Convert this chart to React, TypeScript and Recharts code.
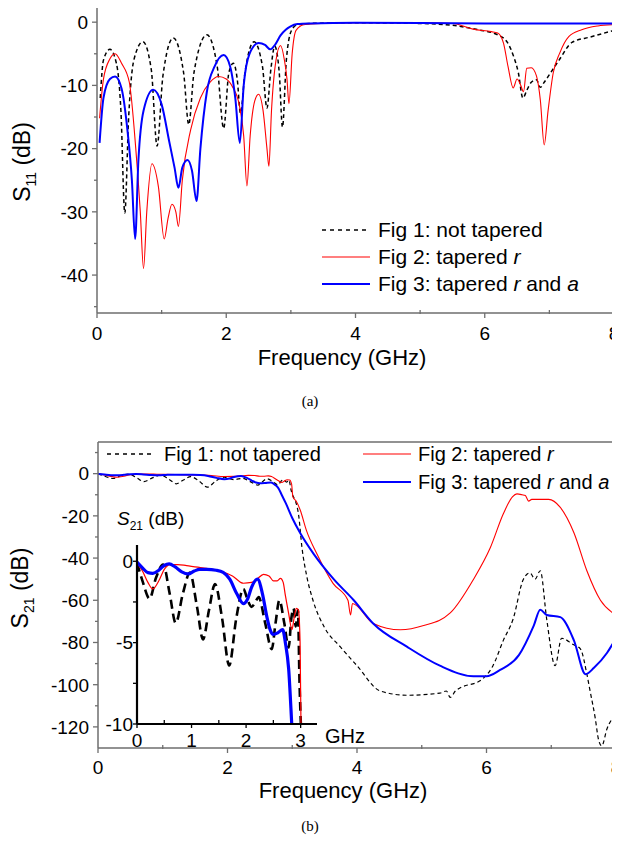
import React from "react";
import { LineChart, Line, XAxis, YAxis, ReferenceLine } from "recharts";

const FONT = "Arial, 'Liberation Sans', Helvetica, sans-serif";
const AXIS = "#6e6e6e";

// ---- (a) S11 ----
const s11NotTaperedF = [0.05, 0.1, 0.2, 0.3, 0.37, 0.43, 0.49, 0.57, 0.71, 0.84, 0.93, 1.02, 1.18, 1.34, 1.42, 1.5, 1.7, 1.86, 1.96, 2.04, 2.11, 2.17, 2.22, 2.29, 2.43, 2.56, 2.63, 2.69, 2.75, 2.82, 2.87, 2.93, 3.01, 3.1, 3.3, 4, 5, 5.5, 5.9, 6.2, 6.35, 6.45, 6.52, 6.59, 6.65, 6.72, 6.8, 6.86, 6.92, 7.0, 7.15, 7.35, 7.65, 8];
const s11NotTaperedDb = [-12, -6, -4.3, -6.5, -14, -30.2, -15, -6, -3.1, -7.5, -19.6, -8.5, -2.5, -8, -16.2, -8, -2.0, -7, -16.8, -8, -6.5, -9, -14.4, -8, -3.1, -7, -13.6, -7.5, -3.8, -8, -16.6, -6, -1.3, -0.4, -0.2, -0.1, -0.2, -0.5, -1.2, -2, -3.2, -5.5, -8, -12, -10.8, -9.5, -9.1, -10.3, -9.5, -8.3, -6, -3.2, -2.3, -1.3];

const s11TaperedRF = [0.04, 0.1, 0.2, 0.28, 0.38, 0.5, 0.6, 0.67, 0.72, 0.77, 0.85, 0.95, 1.04, 1.1, 1.16, 1.22, 1.26, 1.32, 1.45, 1.6, 1.75, 1.88, 2.0, 2.1, 2.2, 2.27, 2.32, 2.37, 2.44, 2.5, 2.57, 2.63, 2.66, 2.7, 2.77, 2.84, 2.9, 2.94, 2.97, 3.02, 3.08, 3.2, 3.5, 4, 5, 5.5, 5.82, 6.1, 6.2, 6.29, 6.36, 6.44, 6.5, 6.55, 6.6, 6.65, 6.72, 6.8, 6.86, 6.92, 6.98, 7.06, 7.16, 7.3, 7.5, 7.75, 8];
const s11TaperedRDb = [-15.2, -9, -5.8, -5.0, -6.5, -9.5, -20, -30, -39, -30, -22.4, -26, -34.3, -31, -28.8, -30, -32.3, -25, -17, -12, -9.5, -8.6, -9, -10.3, -13, -18, -25.9, -18, -12.5, -11.4, -14, -20, -22.8, -14, -6, -3.7, -6, -9, -12.9, -5, -1.3, -0.4, -0.2, -0.1, -0.1, -0.2, -1.1, -1.5, -1.7, -3.3, -7, -10.4, -9, -9.8, -11, -7.3, -7.2, -8.5, -12.3, -19.4, -14, -8, -4.9, -2.3, -1.2, -0.6, -0.4];

const s11TaperedRAF = [0.04, 0.1, 0.2, 0.28, 0.38, 0.47, 0.54, 0.59, 0.64, 0.72, 0.87, 1.0, 1.12, 1.2, 1.26, 1.32, 1.4, 1.47, 1.54, 1.6, 1.7, 1.82, 1.96, 2.06, 2.14, 2.21, 2.27, 2.36, 2.5, 2.6, 2.68, 2.76, 2.84, 2.92, 2.99, 3.1, 3.3, 4, 6, 8];
const s11TaperedRADb = [-19.1, -12, -9, -8.6, -10.5, -17, -25, -34.3, -22, -14, -10.7, -13, -19, -23, -26.2, -23, -21.8, -23.5, -28.3, -20, -11, -7, -5.2, -7, -12, -19.1, -10, -5, -3.3, -3.6, -4.3, -3.5, -2.1, -1.2, -0.7, -0.3, -0.2, -0.1, -0.2, -0.2];

// ---- (b) S21, passband part (inset) + stopband tail ----
const s21NotTaperedF = [0, 0.1, 0.23, 0.35, 0.48, 0.6, 0.71, 0.84, 0.97, 1.1, 1.21, 1.32, 1.43, 1.56, 1.69, 1.82, 1.95, 2.03, 2.1, 2.17, 2.23, 2.35, 2.47, 2.54, 2.61, 2.7, 2.78, 2.83, 2.87, 2.91, 2.95, 2.98];
const s21NotTaperedDb = [-0.1, -1.2, -2.3, -1.0, -0.2, -2.0, -3.8, -2.0, -0.7, -2.8, -4.8, -3.0, -1.4, -3.5, -6.4, -3.5, -1.7, -2.4, -2.8, -2.5, -2.2, -3.8, -5.4, -3.8, -2.4, -3.8, -5.3, -3.5, -2.9, -4.0, -3.0, -7.5];
const s21NotTaperedTailF = [3.01, 3.05, 3.1, 3.15, 3.22, 3.32, 3.5, 3.74, 4.0, 4.36, 4.77, 5.28, 5.38, 5.44, 5.52, 5.95, 6.1, 6.26, 6.41, 6.57, 6.67, 6.75, 6.83, 6.93, 7.06, 7.16, 7.34, 7.45, 7.55, 7.6, 7.68, 7.73, 7.78, 7.86, 8];
const s21NotTaperedTailDb = [-10.5, -13, -20, -35, -48, -60, -73, -82, -91, -103, -105, -104, -103, -106, -103, -97, -91, -79, -69, -50, -47, -50, -46, -69, -91, -78, -81, -83, -95, -103, -116, -126, -129, -121, -114];

const s21TaperedRF = [0, 0.1, 0.2, 0.29, 0.4, 0.5, 0.6, 0.75, 0.91, 1.2, 1.52, 1.75, 1.95, 2.1, 2.2, 2.32, 2.42, 2.5, 2.57, 2.63, 2.68, 2.72, 2.78, 2.84, 2.88, 2.92, 2.96, 2.99];
const s21TaperedRDb = [-0.1, -0.6, -1.3, -1.7, -1.2, -0.5, -0.2, -0.2, -0.27, -0.4, -0.6, -0.9, -1.35, -1.3, -1.1, -0.8, -0.9, -1.2, -1.2, -1.05, -1.3, -2.1, -3.2, -4.2, -3.5, -2.9, -3.0, -5];
const s21TaperedRTailF = [3.01, 3.06, 3.12, 3.22, 3.38, 3.63, 3.86, 3.9, 3.93, 4.25, 4.67, 5.03, 5.44, 5.8, 6.06, 6.26, 6.4, 6.47, 6.55, 6.6, 6.65, 6.7, 6.96, 7.14, 7.35, 7.55, 7.76, 8];
const s21TaperedRTailDb = [-11, -13, -17, -27, -38, -52, -60, -67, -61.5, -71, -74, -72, -66, -50, -35, -19, -11, -9.6, -10, -10.4, -13, -12.2, -12.2, -16, -28, -46, -60, -67];

const s21TaperedRAF = [0, 0.1, 0.2, 0.29, 0.4, 0.5, 0.59, 0.7, 0.82, 0.94, 1.05, 1.15, 1.28, 1.45, 1.58, 1.7, 1.83, 1.95, 2.03, 2.1, 2.21, 2.3, 2.38, 2.44, 2.5, 2.58, 2.67, 2.72, 2.78, 2.84];
const s21TaperedRADb = [-0.05, -0.4, -0.7, -0.74, -0.55, -0.25, -0.16, -0.35, -0.65, -0.78, -0.6, -0.5, -0.5, -0.55, -0.68, -1.1, -2.0, -2.6, -2.3, -1.6, -1.1, -2.0, -3.4, -4.2, -4.5, -4.4, -4.2, -5.0, -6.6, -10.2];
const s21TaperedRATailF = [2.9, 3.0, 3.12, 3.33, 3.64, 3.95, 4.25, 4.77, 5.28, 5.8, 6.0, 6.21, 6.5, 6.73, 6.83, 6.93, 7.14, 7.35, 7.53, 7.66, 7.86, 8];
const s21TaperedRATailDb = [-14, -21, -28, -38, -50, -60, -71, -82, -91, -96, -96, -93, -86, -72, -64.5, -67, -68, -79, -95, -92, -85, -78];

// ticks
const freqTicks = [0, 1, 2, 3, 4, 5, 6, 7, 8];
const s11Ticks = [-45, -40, -35, -30, -25, -20, -15, -10, -5, 0];
const s21Ticks = [-120, -110, -100, -90, -80, -70, -60, -50, -40, -30, -20, -10, 0, 10];
const insetFreqTicks = [0, 0.5, 1, 1.5, 2, 2.5, 3];
const insetDbTicks = [-10, -7.5, -5, -2.5, 0];

const pts = (xs: number[], ys: number[]) => xs.map((x, i) => ({ x, y: ys[i] }));

const a1 = pts(s11NotTaperedF, s11NotTaperedDb);
const a2 = pts(s11TaperedRF, s11TaperedRDb);
const a3 = pts(s11TaperedRAF, s11TaperedRADb);
const b1 = pts([...s21NotTaperedF, ...s21NotTaperedTailF], [...s21NotTaperedDb, ...s21NotTaperedTailDb]);
const b2 = pts([...s21TaperedRF, ...s21TaperedRTailF], [...s21TaperedRDb, ...s21TaperedRTailDb]);
const b3 = pts([...s21TaperedRAF, ...s21TaperedRATailF], [...s21TaperedRADb, ...s21TaperedRATailDb]);

const yTick = (isMajor: (v: number) => boolean, color: string, size: number, gap: number, majLen: number, minLen: number) =>
  (p: any) => {
    const v = p.payload.value;
    const major = isMajor(v);
    return (
      <g>
        <line x1={p.x} y1={p.y} x2={p.x - (major ? majLen : minLen)} y2={p.y} stroke={color} strokeWidth={1.3} />
        {major && (
          <text x={p.x - gap} y={p.y} dy="0.36em" textAnchor="end" fontSize={size} fontFamily={FONT} fill="#000">
            {String(v)}
          </text>
        )}
      </g>
    );
  };

const xTick = (isMajor: (v: number) => boolean, color: string, size: number, off: number, majLen: number, minLen: number) =>
  (p: any) => {
    const v = p.payload.value;
    const major = isMajor(v);
    return (
      <g>
        {major ? (
          <line x1={p.x} y1={p.y} x2={p.x} y2={p.y + majLen} stroke={color} strokeWidth={1.3} />
        ) : (
          <line x1={p.x} y1={p.y - minLen} x2={p.x} y2={p.y + 1} stroke={color} strokeWidth={1.3} />
        )}
        {major && (
          <text x={p.x} y={p.y + off} textAnchor="middle" fontSize={size} fontFamily={FONT} fill="#000">
            {String(v)}
          </text>
        )}
      </g>
    );
  };

const even = (v: number) => v % 2 === 0;
const by10 = (v: number) => v % 10 === 0;
const by20 = (v: number) => v % 20 === 0;
const isInt = (v: number) => Number.isInteger(v);
const by5 = (v: number) => v % 5 === 0;

const freqTitle = (x: number, y: number) => () => (
  <text x={x} y={y} textAnchor="middle" fontSize={22} fontFamily={FONT} fill="#000">
    Frequency (GHz)
  </text>
);

const sTitle = (sub: string, cx: number, cy: number) => () => (
  <text transform={`rotate(-90, ${cx}, ${cy})`} x={cx} y={cy} dy="0.35em" textAnchor="middle" fontSize={23} fontFamily={FONT} fill="#000">
    S<tspan fontSize={14} dy={6}>{sub}</tspan>
    <tspan dy={-6}> (dB)</tspan>
  </text>
);

function LegendRow({ color, dash, width, children, left, top, fontSize, gap = 8 }: any) {
  return (
    <div style={{ position: "absolute", left, top, height: 26, display: "flex", alignItems: "center", fontFamily: FONT, fontSize, whiteSpace: "nowrap" }}>
      <svg width={49} height={10} style={{ marginRight: gap }}>
        <line x1={0} y1={5} x2={48} y2={5} stroke={color} strokeWidth={width} strokeDasharray={dash} />
      </svg>
      <span>{children}</span>
    </div>
  );
}

export default function App() {
  return (
    <div style={{ position: "relative", width: 620, height: 851, margin: -8, background: "#fff", overflow: "hidden" }}>
      {/* (a) */}
      <div style={{ position: "absolute", left: 0, top: 0 }}>
        <LineChart width={620} height={375} margin={{ top: 7, right: 6, left: 0, bottom: 0 }}>
          <XAxis
            type="number"
            dataKey="x"
            domain={[0, 8]}
            ticks={freqTicks}
            interval={0}
            tickSize={0}
            tickMargin={0}
            height={62}
            stroke={AXIS}
            strokeWidth={1.5}
            tick={xTick(even, AXIS, 19, 27, 5, 3)}
            label={freqTitle(342, 365)}
          />
          <YAxis
            type="number"
            dataKey="y"
            domain={[-46, 2.4]}
            ticks={s11Ticks}
            interval={0}
            tickSize={0}
            tickMargin={0}
            width={97}
            stroke={AXIS}
            strokeWidth={1.5}
            tick={yTick(by10, AXIS, 19, 9, 5, 3)}
            label={sTitle("11", 22, 162)}
          />
          <ReferenceLine y={2.4} stroke={AXIS} strokeWidth={1.5} />
          <ReferenceLine x={8} stroke={AXIS} strokeWidth={1.5} />
          <Line data={a1} dataKey="y" type="monotone" stroke="#000" strokeWidth={1.5} strokeDasharray="4 3" dot={false} isAnimationActive={false} />
          <Line data={a2} dataKey="y" type="monotone" stroke="#ff0000" strokeWidth={1.1} dot={false} isAnimationActive={false} />
          <Line data={a3} dataKey="y" type="monotone" stroke="#0000ff" strokeWidth={2} dot={false} isAnimationActive={false} />
        </LineChart>
        <LegendRow left={322} top={217} color="#000" dash="4 4" width={1.5} fontSize={21} gap={7}>Fig 1: not tapered</LegendRow>
        <LegendRow left={322} top={244} color="#ff0000" width={1.1} fontSize={21} gap={7}>Fig 2: tapered <i>r</i></LegendRow>
        <LegendRow left={322} top={271} color="#0000ff" width={2} fontSize={21} gap={7}>Fig 3: tapered <i>r</i> and <i>a</i></LegendRow>
      </div>
      <div style={{ position: "absolute", left: 0, top: 393, width: 620, textAlign: "center", fontFamily: "'Times New Roman', 'Liberation Serif', serif", fontSize: 15 }}>(a)</div>

      {/* (b) */}
      <div style={{ position: "absolute", left: 0, top: 420 }}>
        <LineChart width={620} height={392} margin={{ top: 22, right: 4, left: 0, bottom: 0 }}>
          <XAxis
            type="number"
            dataKey="x"
            domain={[0, 8]}
            ticks={freqTicks}
            interval={0}
            tickSize={0}
            tickMargin={0}
            height={64}
            stroke={AXIS}
            strokeWidth={1.5}
            allowDataOverflow
            tick={xTick(even, AXIS, 19, 26, 5, 3)}
            label={freqTitle(343, 378)}
          />
          <YAxis
            type="number"
            dataKey="y"
            domain={[-130, 15]}
            ticks={s21Ticks}
            interval={0}
            tickSize={0}
            tickMargin={0}
            width={98}
            stroke={AXIS}
            strokeWidth={1.5}
            allowDataOverflow
            tick={yTick(by20, AXIS, 19, 9, 5, 3)}
            label={sTitle("21", 20, 168)}
          />
          <ReferenceLine y={15} stroke={AXIS} strokeWidth={1.5} />
          <ReferenceLine x={8} stroke={AXIS} strokeWidth={1.5} />
          <Line data={b1} dataKey="y" type="monotone" stroke="#000" strokeWidth={1.2} strokeDasharray="4 3" dot={false} isAnimationActive={false} />
          <Line data={b2} dataKey="y" type="monotone" stroke="#ff0000" strokeWidth={1.1} dot={false} isAnimationActive={false} />
          <Line data={b3} dataKey="y" type="monotone" stroke="#0000ff" strokeWidth={2} dot={false} isAnimationActive={false} />
        </LineChart>
        <LegendRow left={107} top={21} color="#000" dash="4 4" width={1.3} fontSize={20} gap={8}>Fig 1: not tapered</LegendRow>
        <LegendRow left={363} top={21} color="#ff0000" width={1.1} fontSize={20} gap={6}>Fig 2: tapered <i>r</i></LegendRow>
        <LegendRow left={363} top={49} color="#0000ff" width={2} fontSize={20} gap={6}>Fig 3: tapered <i>r</i> and <i>a</i></LegendRow>
      </div>

      {/* inset */}
      <div style={{ position: "absolute", left: 100, top: 530 }}>
        <LineChart width={260} height={220} margin={{ top: 15, right: 43, left: 0, bottom: 0 }}>
          <XAxis
            type="number"
            dataKey="x"
            domain={[0, 3.3]}
            ticks={insetFreqTicks}
            interval={0}
            tickSize={0}
            tickMargin={0}
            height={26}
            stroke="#000"
            strokeWidth={2.2}
            allowDataOverflow
            tick={xTick(isInt, "#000", 19, 23, 4, 4)}
          />
          <YAxis
            type="number"
            dataKey="y"
            domain={[-10, 1]}
            ticks={insetDbTicks}
            interval={0}
            tickSize={0}
            tickMargin={0}
            width={37}
            stroke="#000"
            strokeWidth={2.2}
            allowDataOverflow
            tick={yTick(by5, "#000", 19, 4, 4, 4)}
          />
          <Line data={b1} dataKey="y" type="monotone" stroke="#000" strokeWidth={2.6} strokeDasharray="9 5" dot={false} isAnimationActive={false} />
          <Line data={b2} dataKey="y" type="monotone" stroke="#ff0000" strokeWidth={1.2} dot={false} isAnimationActive={false} />
          <Line data={b3} dataKey="y" type="monotone" stroke="#0000ff" strokeWidth={3.2} dot={false} isAnimationActive={false} />
        </LineChart>
      </div>
      <div style={{ position: "absolute", left: 117, top: 508, fontFamily: FONT, fontSize: 19, whiteSpace: "nowrap" }}>
        <i>S</i>
        <sub style={{ fontSize: 12 }}>21</sub> (dB)
      </div>
      <div style={{ position: "absolute", left: 325, top: 725, fontFamily: FONT, fontSize: 20 }}>GHz</div>
      <div style={{ position: "absolute", left: 0, top: 818, width: 620, textAlign: "center", fontFamily: "'Times New Roman', 'Liberation Serif', serif", fontSize: 15 }}>(b)</div>
    </div>
  );
}
